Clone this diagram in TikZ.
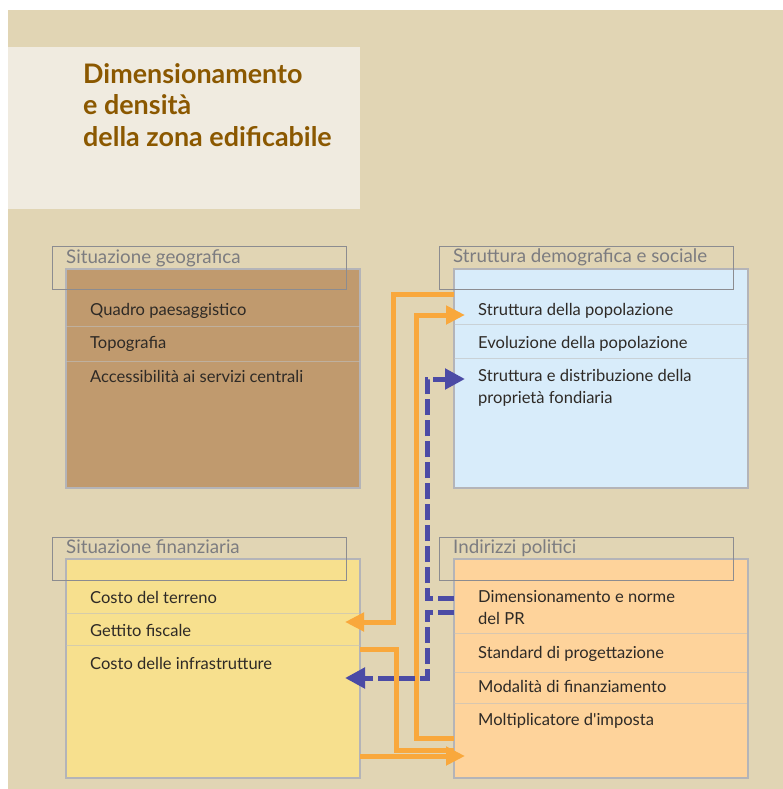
\documentclass[tikz,border=0pt]{standalone}
\usepackage{fontspec}
\setmainfont{Lato}[Ligatures=TeXOff]
\usetikzlibrary{arrows.meta}
\definecolor{paper}{HTML}{E1D5B4}
\definecolor{titlebg}{HTML}{F0EBE0}
\definecolor{titletext}{HTML}{8B5800}
\definecolor{geofill}{HTML}{C09A6E}
\definecolor{demofill}{HTML}{D8ECFA}
\definecolor{finfill}{HTML}{F7E08E}
\definecolor{polfill}{HTML}{FED39B}
\definecolor{boxline}{HTML}{B4B4B8}
\definecolor{frameline}{HTML}{8C8C90}
\definecolor{captext}{HTML}{7C7C80}
\definecolor{itemtext}{HTML}{2E2A26}
\definecolor{arrorange}{HTML}{F9A83C}
\definecolor{arrblue}{HTML}{4B4BA5}
\begin{document}
\begin{tikzpicture}
        [
            x=1bp, y=-1bp,
            box/.style={draw=boxline, line width=2bp, minimum width=294bp, minimum height=219bp, anchor=north west, inner sep=0pt, outer sep=0pt},
            frame/.style={draw=frameline, line width=1bp, minimum width=294bp, minimum height=43bp, anchor=north west, inner sep=0pt},
            headtxt/.style={anchor=base west, inner sep=0pt, text=captext, font=\fontsize{18.8}{20}\selectfont},
            item/.style={anchor=base west, inner sep=0pt, text=itemtext, font=\fontsize{16.6}{21.5}\selectfont, align=left},
            sep/.style={draw=black!25, line width=1bp, opacity=0.6},
            oline/.style={draw=arrorange, line width=5bp},
            oarrow/.style={oline, -{Triangle[length=19bp,width=18bp]}},
            barrow/.style={draw=arrblue, line width=5bp, dash pattern=on 16bp off 5bp, -{Triangle[length=20bp,width=20bp]}}
        ]
        \useasboundingbox (0,0) rectangle (783,789);
        \fill[paper] (8,10) rectangle (783,789);
        % Title
        \fill[titlebg] (8,47) rectangle (360,209);
        \node[anchor=base west, inner sep=0pt, align=left, text=titletext, font=\fontsize{27}{31.5}\selectfont\bfseries] (title) at (83,146) {Dimensionamento\\e densità\\della zona edificabile};
        % Situazione geografica
        \node[box, fill=geofill] (geo) at (66,269) {};
        \draw[sep] (66,326) -- (360,326);
        \draw[sep] (66,361) -- (360,361);
        \node[item] (geo1) at (90,315) {Quadro paesaggistico};
        \node[item] (geo2) at (90,348) {Topografia};
        \node[item] (geo3) at (90,382) {Accessibilità ai servizi centrali};
        \node[frame] (geoT) at (52,246) {};
        \node[headtxt] (geoL) at (66,263) {Situazione geografica};
        % Struttura demografica e sociale
        \node[box, fill=demofill] (demo) at (454,269) {};
        \draw[sep] (454,324) -- (747,324);
        \draw[sep] (454,358) -- (747,358);
        \node[item] (demo1) at (478,315) {Struttura della popolazione};
        \node[item] (demo2) at (478,348) {Evoluzione della popolazione};
        \node[item] (demo3) at (478,403) {Struttura e distribuzione della\\proprietà fondiaria};
        \node[frame] (demoT) at (439,246) {};
        \node[headtxt] (demoL) at (453,262) {Struttura demografica e sociale};
        % Situazione finanziaria
        \node[box, fill=finfill] (fin) at (66,559) {};
        \draw[sep] (66,613) -- (360,613);
        \draw[sep] (66,645) -- (360,645);
        \node[item] (fin1) at (90,603) {Costo del terreno};
        \node[item] (fin2) at (90,636) {Gettito fiscale};
        \node[item] (fin3) at (90,669) {Costo delle infrastrutture};
        \node[frame] (finT) at (52,537) {};
        \node[headtxt] (finL) at (66,553) {Situazione finanziaria};
        % Indirizzi politici
        \node[box, fill=polfill] (pol) at (454,559) {};
        \draw[sep] (454,633) -- (747,633);
        \draw[sep] (454,672) -- (747,672);
        \draw[sep] (454,703) -- (747,703);
        \node[item] (pol1) at (478,624) {Dimensionamento e norme\\del PR};
        \node[item] (pol2) at (478,658) {Standard di progettazione};
        \node[item] (pol3) at (478,692) {Modalità di finanziamento};
        \node[item] (pol4) at (478,725) {Moltiplicatore d'imposta};
        \node[frame] (polT) at (439,537) {};
        \node[headtxt] (polL) at (453,553) {Indirizzi politici};
        % links
        \coordinate (demoA) at (454,294);
        \coordinate (demoB) at (465,315);
        \coordinate (demoC) at (465,379);
        \coordinate (finA) at (345,622);
        \coordinate (finB) at (360,649);
        \coordinate (finC) at (345,678);
        \coordinate (finD) at (360,756);
        \coordinate (polA) at (454,598);
        \coordinate (polB) at (454,612);
        \coordinate (polC) at (454,738);
        \coordinate (polD) at (454,750);
        \coordinate (polE) at (465,756);
        \coordinate (laneA) at (393,0);
        \coordinate (laneB) at (416,0);
        \coordinate (laneC) at (396,0);
        \coordinate (laneD) at (427,0);
        \draw[oarrow] (demoA) -| (laneA |- finA) -- (finA);
        \draw[oarrow] (polC) -| (laneB |- demoB) -- (demoB);
        \draw[oline] (finB) -| (laneC |- polD) -- (polD);
        \draw[oarrow] (finD) -- (polE);
        \draw[barrow] (polA) -| (laneD |- demoC) -- (demoC);
        \draw[barrow] (polB) -| (laneD |- finC) -- (finC);
\end{tikzpicture}
\end{document}
